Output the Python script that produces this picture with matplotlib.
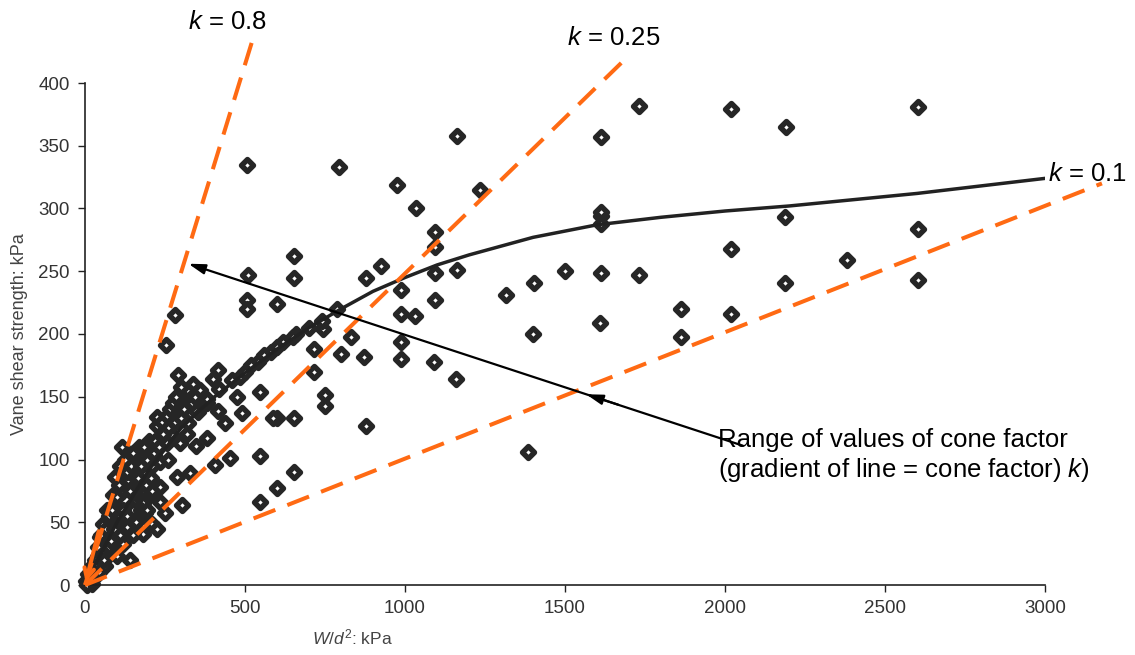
import matplotlib
matplotlib.use("Agg")
import matplotlib.pyplot as plt
from matplotlib.markers import MarkerStyle

plt.rcParams['font.family'] = ['Liberation Sans', 'DejaVu Sans']
plt.rcParams['mathtext.fontset'] = 'custom'
plt.rcParams['mathtext.it'] = 'Liberation Sans:italic'
plt.rcParams['mathtext.rm'] = 'Liberation Sans'

# ---- data ----
x_ticks = [0, 500, 1000, 1500, 2000, 2500, 3000]
y_ticks = [0, 50, 100, 150, 200, 250, 300, 350, 400]

pts_x = [506, 793, 1164, 1611, 1731, 2018, 2192, 2603,
         976, 1235, 1033, 1094, 1094, 1611, 1611, 1611, 2187, 2018, 2603, 2381,
         652, 509, 652, 924, 877, 1094, 1162, 1500, 1611, 1730, 2189, 2603, 1404,
         1315, 986, 1094, 506, 506, 600, 282, 788, 986, 1030, 1863, 2018, 1863,
         1401, 1610, 986, 986, 1091, 1159, 1383,
         253, 872, 799, 715, 830, 745, 715, 750, 750, 877, 548, 600, 652, 548,
         652, 600, 548, 453, 406, 302,
         292, 338, 297, 320, 417, 401, 484, 474, 490, 588, 437, 380, 417, 354,
         297, 224, 281, 323, 380, 348, 297, 255, 115, 182, 234, 188, 135, 94,
         234, 286, 328, 156, 203, 88, 234, 250, 97, 141, 188, 208, 182, 224, 57,
         130, 47, 88, 119, 68, 99, 42, 26, 63, 10, 37, 3, 21, 5,
         160, 200, 150, 170, 120, 110, 80, 60, 150, 170, 210, 260, 270, 224, 250,
         70, 120, 180, 100, 140, 200, 240, 130, 160, 110, 75, 50,
         260, 300, 340, 380, 420, 460, 500, 540, 580, 620, 660, 700, 740, 560,
         520, 600, 650,
         20, 30, 40, 50, 55, 65, 75, 85, 90, 100, 105, 110, 125, 130, 140, 145,
         150, 165, 175, 185, 190, 195, 205, 215, 220, 230, 245, 255, 265, 275,
         285, 300, 310, 320, 335, 345, 360, 120, 130, 160, 175, 195, 210, 35,
         15, 80, 60, 45]
pts_y = [335, 333, 358, 357, 382, 379, 365, 381,
         319, 315, 300, 281, 269, 294, 288, 297, 293, 268, 284, 259,
         262, 247, 245, 254, 245, 249, 251, 250, 249, 247, 241, 243, 241,
         231, 235, 227, 227, 220, 224, 215, 220, 216, 214, 220, 216, 198,
         200, 209, 194, 180, 178, 164, 106,
         191, 182, 184, 188, 198, 204, 170, 151, 143, 127, 154, 133, 133, 103,
         90, 77, 66, 101, 96, 64,
         167, 160, 148, 155, 171, 164, 166, 150, 137, 133, 129, 145, 139, 138,
         138, 127, 130, 129, 117, 111, 113, 113, 110, 102, 98, 89, 84, 86,
         78, 86, 89, 73, 72, 72, 66, 57, 63, 62, 57, 49, 41, 45, 49,
         46, 38, 36, 33, 28, 23, 23, 16, 15, 9, 8, 3, 1, 0,
         95, 115, 60, 80, 75, 55, 50, 35, 40, 110, 95, 100, 120, 134, 123,
         60, 90, 65, 45, 20, 100, 130, 95, 85, 40, 30, 20,
         125, 133, 140, 148, 156, 163, 170, 178, 186, 194, 200, 205, 210, 183,
         175, 190, 198,
         12, 20, 30, 40, 25, 45, 55, 60, 45, 70, 80, 95, 100, 90, 75, 95,
         105, 85, 95, 110, 80, 100, 85, 105, 115, 110, 120, 135, 140, 145,
         150, 158, 140, 120, 145, 150, 155, 60, 55, 50, 60, 60, 75, 15,
         5, 35, 20, 10]

curve_x = [0, 100, 200, 300, 400, 500, 600, 700, 800, 900, 1000, 1100, 1200,
           1400, 1600, 1800, 2000, 2200, 2400, 2600, 2800, 3000]
curve_y = [0, 50, 92, 125, 149, 169, 188, 205, 220, 234, 245, 255, 263,
           277, 287, 293, 298, 302, 307, 312, 318, 324]

k_labels = ['0.8', '0.25', '0.1']
k_end_x = [522, 1688, 3178]
k_end_y = [433, 419, 320]

arrow_start = (2056, 111)
arrow_tips = [(323, 256), (1566, 152)]

# ---- figure ----
fig = plt.figure(figsize=(11.35, 6.55), dpi=100)
ax = fig.add_axes([85 / 1135, 1 - 585 / 655, 960 / 1135, 502 / 655])
ax.set_xlim(0, 3000)
ax.set_ylim(0, 400)

orange = '#ff6a13'
for ex, ey in zip(k_end_x, k_end_y):
    ax.plot([0, ex], [0, ey], color=orange, lw=2.9, dashes=(5.8, 3.2),
            clip_on=False, zorder=3, solid_capstyle='butt', dash_capstyle='butt')

mk = MarkerStyle('D', joinstyle='round')
ax.plot(pts_x, pts_y, ls='none', marker=mk, ms=6.3, mfc='white',
        mec='#262626', mew=3.9, clip_on=False, zorder=2)

ax.plot(curve_x, curve_y, color='#222222', lw=2.5, zorder=2.5)

# orange arrow head at origin
ax.annotate('', xy=(0, 0), xytext=(45, 45),
            arrowprops=dict(arrowstyle='->,head_length=0.7,head_width=0.35',
                            color=orange, lw=2.9), annotation_clip=False, zorder=4)

# black arrow with two heads
ax.annotate('', xy=arrow_tips[0], xytext=arrow_start,
            arrowprops=dict(arrowstyle='-|>,head_length=1.0,head_width=0.3',
                            color='black', lw=1.6, shrinkA=0, shrinkB=0), zorder=5)
ax.annotate('', xy=arrow_tips[1], xytext=(arrow_tips[1][0] + 100, arrow_tips[1][1] - 8.3),
            arrowprops=dict(arrowstyle='-|>,head_length=1.0,head_width=0.3',
                            color='black', lw=1.6, shrinkA=0, shrinkB=0), zorder=5)

for sp in ['top', 'right']:
    ax.spines[sp].set_visible(False)
for sp in ['left', 'bottom']:
    ax.spines[sp].set_linewidth(1.2)
    ax.spines[sp].set_color('#222222')

ax.set_xticks(x_ticks)
ax.set_yticks(y_ticks)
ax.tick_params(direction='out', length=5, width=1.0, color='#222222',
               labelsize=13.5, labelcolor='#333333', pad=6)

fig.text(20 / 1135, 1 - 334 / 655, 'Vane shear strength: kPa', rotation=90,
         ha='center', va='center', fontsize=13, color='#444444')
fig.text(352 / 1135, 1 - 637 / 655, r'$W$/$d^2$: kPa', ha='center', va='center',
         fontsize=12.5, color='#444444')

fig.text(188 / 1135, 1 - 22 / 655, r'$k$ = ' + k_labels[0], ha='left', va='center',
         fontsize=18.5, color='black')
fig.text(567 / 1135, 1 - 38 / 655, r'$k$ = ' + k_labels[1], ha='left', va='center',
         fontsize=18.5, color='black')
fig.text(1048 / 1135, 1 - 174 / 655, r'$k$ = ' + k_labels[2], ha='left', va='center',
         fontsize=18.5, color='black')
fig.text(718 / 1135, 1 - 440 / 655, 'Range of values of cone factor', ha='left',
         va='center', fontsize=18.5, color='black')
fig.text(718 / 1135, 1 - 470 / 655, r'(gradient of line = cone factor) $k$)',
         ha='left', va='center', fontsize=18.5, color='black')

fig.savefig('out.png', dpi=100, facecolor='white')
